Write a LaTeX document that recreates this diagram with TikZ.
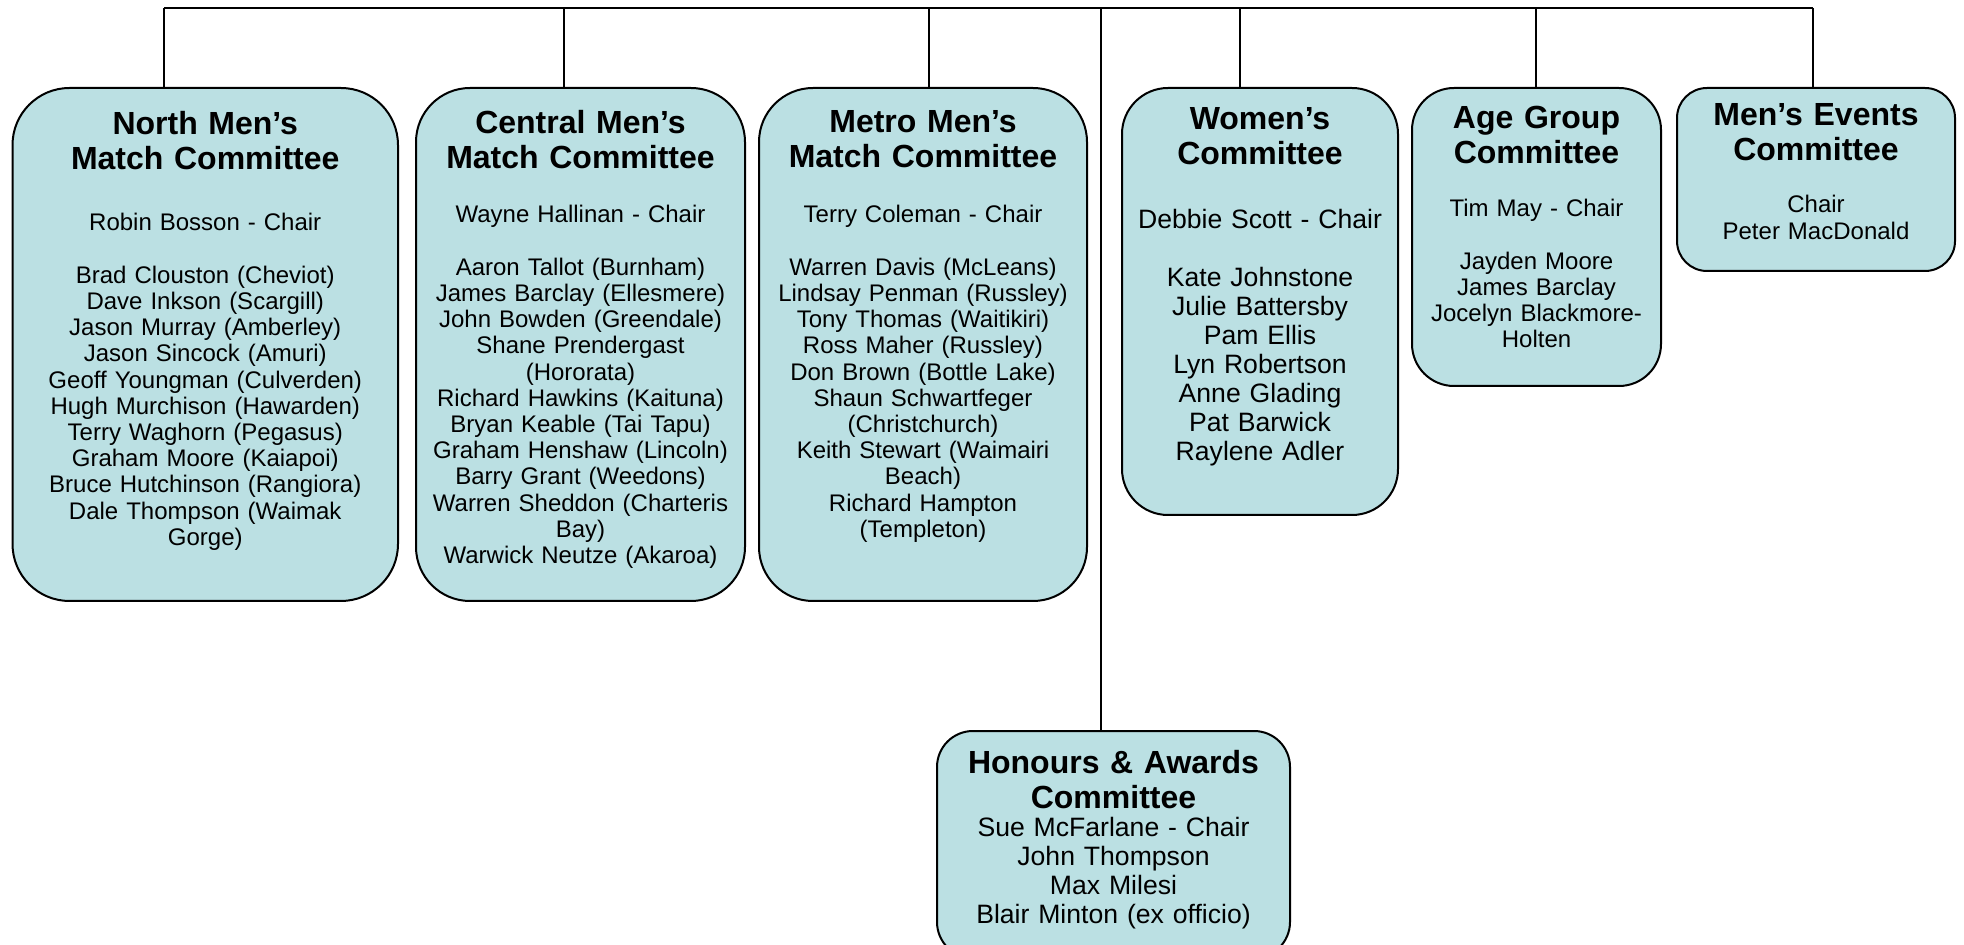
\documentclass[tikz,border=0pt]{standalone}
\usepackage{fontspec}
\setmainfont{Liberation Sans}
\usepackage{tikz}
\usetikzlibrary{positioning}
\definecolor{boxfill}{RGB}{187,224,227}
\tikzstyle{cbox} = [draw=black, line width=1pt, fill=boxfill, inner sep=0pt]
\tikzstyle{link} = [line width=0.7pt, black]
\tikzstyle{ctitle} = [anchor=base, align=center, inner sep=0pt, font=\fontsize{16pt}{17.5pt}\selectfont\bfseries]
\tikzstyle{cbody} = [anchor=base, align=center, inner sep=0pt, font=\fontsize{12pt}{13.1pt}\selectfont]
\tikzstyle{cbigbody} = [anchor=base, align=center, inner sep=0pt, font=\fontsize{13.3pt}{14.5pt}\selectfont]

\begin{document}
\begin{tikzpicture}[x=0.5pt, y=-0.5pt]
            \useasboundingbox (0,0) rectangle (1964,945);
            % committee boxes
            \node[cbox, rounded corners=28.5pt, minimum width=192.75pt, minimum height=256.5pt] (northmc) at (205.25,344.5) {};
            \node[cbox, rounded corners=27pt, minimum width=164.5pt, minimum height=256.5pt] (centralmc) at (580.5,344.5) {};
            \node[cbox, rounded corners=27pt, minimum width=164pt, minimum height=256.5pt] (metromc) at (923,344.5) {};
            \node[cbox, rounded corners=23pt, minimum width=138pt, minimum height=213.5pt] (women) at (1260,301.5) {};
            \node[cbox, rounded corners=21pt, minimum width=124.5pt, minimum height=149pt] (agegroup) at (1536.5,237) {};
            \node[cbox, rounded corners=15pt, minimum width=139pt, minimum height=91.5pt] (events) at (1816,179.5) {};
            \node[cbox, rounded corners=18pt, minimum width=176.5pt, minimum height=113.5pt] (honours) at (1113.5,844.5) {};

            % top bar
            \coordinate (barnorth) at (164,8);
            \coordinate (barcentral) at (564,8);
            \coordinate (barmetro) at (929,8);
            \coordinate (barhonours) at (1101,8);
            \coordinate (barwomen) at (1240,8);
            \coordinate (barage) at (1536,8);
            \coordinate (barevents) at (1813,8);
            \draw[link] (barnorth) -- (barevents);
            \draw[link] (barnorth) -- (barnorth |- northmc.north);
            \draw[link] (barcentral) -- (barcentral |- centralmc.north);
            \draw[link] (barmetro) -- (barmetro |- metromc.north);
            \draw[link] (barhonours) -- (barhonours |- honours.north);
            \draw[link] (barwomen) -- (barwomen |- women.north);
            \draw[link] (barage) -- (barage |- agegroup.north);
            \draw[link] (barevents) -- (barevents |- events.north);

            % texts
            \node[ctitle, text width=190pt] (northmc-title) at (205.25,135) {North Men’s\\Match Committee};
            \node[cbody, text width=190pt] (northmc-body) at (205.25,231) {Robin Bosson - Chair\\[13.1pt]
            Brad Clouston (Cheviot)\\
            Dave Inkson (Scargill)\\
            Jason Murray (Amberley)\\
            Jason Sincock (Amuri)\\
            Geoff Youngman (Culverden)\\
            Hugh Murchison (Hawarden)\\
            Terry Waghorn (Pegasus)\\
            Graham Moore (Kaiapoi)\\
            Bruce Hutchinson (Rangiora)\\
            Dale Thompson (Waimak\\
            Gorge)};

            \node[ctitle, text width=162pt] (centralmc-title) at (580.5,134) {Central Men’s\\Match Committee};
            \node[cbody, text width=162pt] (centralmc-body) at (580.5,223) {Wayne Hallinan - Chair\\[13.1pt]
            Aaron Tallot (Burnham)\\
            James Barclay (Ellesmere)\\
            John Bowden (Greendale)\\
            Shane Prendergast\\
            (Hororata)\\
            Richard Hawkins (Kaituna)\\
            Bryan Keable (Tai Tapu)\\
            Graham Henshaw (Lincoln)\\
            Barry Grant (Weedons)\\
            Warren Sheddon (Charteris\\
            Bay)\\
            Warwick Neutze (Akaroa)};

            \node[ctitle, text width=162pt] (metromc-title) at (923,133) {Metro Men’s\\Match Committee};
            \node[cbody, text width=162pt] (metromc-body) at (923,223) {Terry Coleman - Chair\\[13.1pt]
            Warren Davis (McLeans)\\
            Lindsay Penman (Russley)\\
            Tony Thomas (Waitikiri)\\
            Ross Maher (Russley)\\
            Don Brown (Bottle Lake)\\
            Shaun Schwartfeger\\
            (Christchurch)\\
            Keith Stewart (Waimairi\\
            Beach)\\
            Richard Hampton\\
            (Templeton)};

            \node[ctitle, text width=136pt] (women-title) at (1260,130) {Women’s\\Committee};
            \node[cbigbody, text width=136pt] (women-body) at (1260,229) {Debbie Scott - Chair\\[14.5pt]
            Kate Johnstone\\
            Julie Battersby\\
            Pam Ellis\\
            Lyn Robertson\\
            Anne Glading\\
            Pat Barwick\\
            Raylene Adler};

            \node[ctitle, text width=122pt] (agegroup-title) at (1536.5,129) {Age Group\\Committee};
            \node[cbody, text width=122pt] (agegroup-body) at (1536.5,217) {Tim May - Chair\\[13.1pt]
            Jayden Moore\\
            James Barclay\\
            Jocelyn Blackmore-\\
            Holten};

            \node[ctitle, text width=137pt] (events-title) at (1816,126) {Men’s Events\\Committee};
            \node[cbody, text width=137pt] (events-body) at (1816,213) {Chair\\
            Peter MacDonald};

            \node[ctitle, text width=174pt] (honours-title) at (1113.5,773) {Honours \& Awards\\Committee};
            \node[cbigbody, text width=174pt] (honours-body) at (1113.5,836) {Sue McFarlane - Chair\\
            John Thompson\\
            Max Milesi\\
            Blair Minton (ex officio)};
        \end{tikzpicture}
\end{document}
